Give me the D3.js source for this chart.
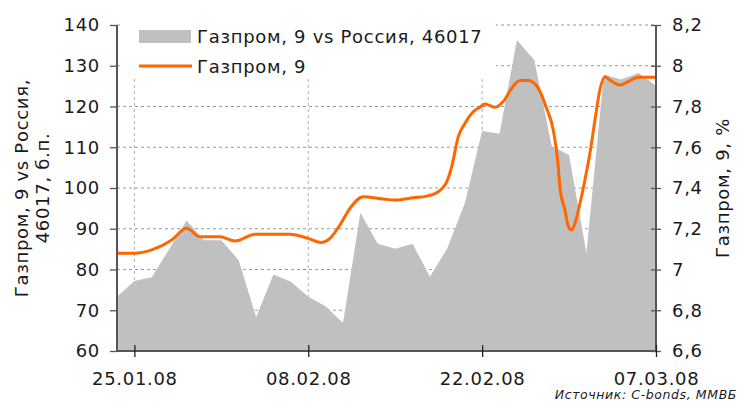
<!DOCTYPE html>
<html>
<head>
<meta charset="utf-8">
<script src="https://cdn.jsdelivr.net/npm/d3@7"></script>
<style>
  body { margin: 0; background: #fff; }
  svg text { font-family: "DejaVu Sans", Verdana, sans-serif; fill: #1a1a1a; letter-spacing: 0.7px; }
</style>
</head>
<body>
<script>
// trading days on the category axis
var days = ["24.01.08","25.01.08","28.01.08","29.01.08","30.01.08","31.01.08","01.02.08",
            "04.02.08","05.02.08","06.02.08","07.02.08","08.02.08","11.02.08","12.02.08",
            "13.02.08","14.02.08","15.02.08","18.02.08","19.02.08","20.02.08","21.02.08",
            "22.02.08","25.02.08","26.02.08","27.02.08","28.02.08","29.02.08","03.03.08",
            "04.03.08","05.03.08","06.03.08","07.03.08"];
var tickDays = ["25.01.08","08.02.08","22.02.08","07.03.08"];

// spread vs Russia, bp (left axis, grey area)
var spread = [73.3,77.2,78.1,85.0,92.0,87.2,87.2,82.3,68.3,78.8,77.0,73.3,71.0,66.9,93.9,86.3,
              85.1,86.3,78.2,85.2,96.2,114.0,113.3,136.3,131.4,110.3,108.1,84.1,127.8,126.6,128.2,125.1];

// yield, % (right axis, orange line) - position in trading days and value
var yieldDay = [0,1,2,3.15,4,4.77,5.92,6.79,7.94,9.95,11,11.71,12.25,12.82,13.4,14.16,15.31,15.99,
                17.04,17.81,18.38,18.96,19.25,19.63,20.01,20.49,20.87,21.16,21.74,22.21,22.7,23.17,
                23.65,24.23,24.71,25.09,25.38,25.47,25.76,25.95,26.15,26.34,26.63,26.91,27.2,27.49,
                27.77,28.06,28.35,28.92,29.4,29.98,31];
var yieldVal = [7.08,7.08,7.096,7.145,7.202,7.161,7.161,7.14,7.173,7.173,7.153,7.133,7.153,7.218,7.30,7.357,
                7.346,7.341,7.352,7.36,7.377,7.43,7.505,7.652,7.717,7.774,7.796,7.812,7.796,7.824,7.889,7.927,
                7.927,7.889,7.79,7.685,7.505,7.406,7.292,7.214,7.194,7.227,7.325,7.439,7.57,7.734,
                7.881,7.946,7.93,7.905,7.922,7.943,7.943];

var leftTicks = [60,70,80,90,100,110,120,130,140];
var rightTicks = [6.6,6.8,7,7.2,7.4,7.6,7.8,8,8.2];

function chart(){
var margin = {top: 25, right: 82, bottom: 52, left: 117},
    width = 738 - margin.left - margin.right,
    height = 403 - margin.top - margin.bottom;

var svg = d3.select("body").append("svg")
    .attr("width", 738)
    .attr("height", 403);
var g = svg.append("g")
    .attr("transform", "translate(" + margin.left + "," + margin.top + ")");

var x = d3.scaleLinear().domain([0, days.length - 1]).range([0, width]);
var yL = d3.scaleLinear().domain([60, 140]).range([height, 0]);
var yR = d3.scaleLinear().domain([6.6, 8.2]).range([height, 0]);

var tickIdx = tickDays.map(function(d){ return days.indexOf(d); });

// grid
g.append("g").selectAll("line").data(leftTicks.slice(1)).enter().append("line")
    .attr("x1", 0).attr("x2", width)
    .attr("y1", function(d){ return yL(d); }).attr("y2", function(d){ return yL(d); })
    .attr("stroke", "#9a9a9a").attr("stroke-dasharray", "3,3").attr("stroke-width", 1);
g.append("g").selectAll("line").data(tickIdx.slice(0, 3)).enter().append("line")
    .attr("y1", 0).attr("y2", height)
    .attr("x1", function(d){ return x(d); }).attr("x2", function(d){ return x(d); })
    .attr("stroke", "#b0b0b0").attr("stroke-dasharray", "3,3").attr("stroke-width", 1);

// legend background
g.append("rect").attr("x", 6).attr("y", -2).attr("width", 373).attr("height", 54).attr("fill", "#fff");

// area
var area = d3.area()
    .x(function(d, i){ return x(i); })
    .y0(height)
    .y1(function(d){ return yL(d); });
g.append("path").datum(spread).attr("d", area).attr("fill", "#c0c0c0");

// line
var line = d3.line()
    .curve(d3.curveMonotoneX)
    .x(function(d){ return x(d[0]); })
    .y(function(d){ return yR(d[1]); });
var pts = yieldDay.map(function(d, i){ return [d, yieldVal[i]]; });
g.append("path").datum(pts).attr("d", line)
    .attr("fill", "none").attr("stroke", "#ff6600").attr("stroke-width", 3)
    .attr("stroke-linejoin", "round");

// axes
var axisColor = "#555";
var fs = "18px";

var la = g.append("g").call(d3.axisLeft(yL).tickValues(leftTicks).tickSize(7).tickPadding(10));
la.select(".domain").attr("stroke", axisColor).attr("stroke-width", 2).attr("d", "M0,0V" + height);
la.selectAll(".tick line").attr("stroke", axisColor).attr("stroke-width", 1.3);
la.selectAll("text").style("font-size", fs);

var ra = g.append("g").attr("transform", "translate(" + width + ",0)")
    .call(d3.axisRight(yR).tickValues(rightTicks).tickSize(5).tickPadding(11)
      .tickFormat(function(d){ return String(+d.toFixed(1)).replace(".", ","); }));
ra.select(".domain").attr("stroke", axisColor).attr("stroke-width", 2).attr("d", "M0,0V" + height);
ra.selectAll(".tick line").attr("x1", -5).attr("stroke", axisColor).attr("stroke-width", 1.3);
ra.selectAll("text").style("font-size", fs);

var ba = g.append("g").attr("transform", "translate(0," + height + ")")
    .call(d3.axisBottom(x).tickValues(tickIdx).tickSize(6)
      .tickFormat(function(d){ return days[d]; }));
ba.select(".domain").attr("stroke", axisColor).attr("stroke-width", 2).attr("d", "M0,0H" + width);
ba.selectAll(".tick line").attr("y1", -6).attr("stroke", "#222").attr("stroke-width", 1.3);
ba.selectAll("text").attr("dy", null).attr("y", 34).style("font-size", fs);

// legend
g.append("rect").attr("x", 22).attr("y", 5).attr("width", 52).attr("height", 13).attr("fill", "#c0c0c0");
g.append("text").attr("x", 80).attr("y", 18).style("font-size", fs).text("Газпром, 9 vs Россия, 46017");
g.append("line").attr("x1", 22).attr("x2", 75).attr("y1", 41).attr("y2", 41)
    .attr("stroke", "#ff6600").attr("stroke-width", 3);
g.append("text").attr("x", 80).attr("y", 48).style("font-size", fs).text("Газпром, 9");

// axis titles
var lt = svg.append("text").attr("transform", "translate(28," + (margin.top + height / 2) + ") rotate(-90)")
    .attr("text-anchor", "middle").style("font-size", fs);
lt.append("tspan").attr("x", 0).attr("y", 0).text("Газпром, 9 vs Россия,");
lt.append("tspan").attr("x", 0).attr("y", 21).text("46017, б.п.");

svg.append("text").attr("transform", "translate(729," + (margin.top + height / 2) + ") rotate(-90)")
    .attr("text-anchor", "middle").style("font-size", fs).text("Газпром, 9, %");

svg.append("text").attr("x", 737).attr("y", 399).attr("text-anchor", "end")
    .style("font-size", "12.5px").style("font-style", "italic").style("letter-spacing", "0.6px")
    .text("Источник: C-bonds, ММВБ");
}

window.onload = chart();
</script>
</body>
</html>
